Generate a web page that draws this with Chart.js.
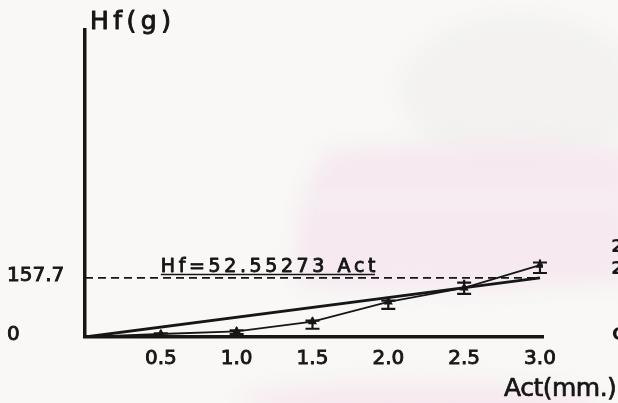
<!DOCTYPE html>
<html>
<head>
<meta charset="utf-8">
<script src="https://cdn.jsdelivr.net/npm/chart.js@4/dist/chart.umd.min.js"></script>
<style>
  html, body { margin: 0; padding: 0; background: #f9f8f6; }
  #wrap { width: 618px; height: 403px; position: relative; }
  canvas { display: block; }
</style>
</head>
<body>
<div id="wrap"><canvas id="c" width="618" height="403"></canvas></div>
<script>
// Actuation (mm) vs. holding force (g), with spread of each measurement
const actValues = [0, 0.5, 1.0, 1.5, 2.0, 2.5, 3.0];
const hfMeans   = [0, 8, 15, 41, 94, 131, 192];
const hfLow     = [null, 2, 8, 22, 75, 115, 171];
const hfHigh    = [null, 10, 18, 44, 97, 145, 199];

const xTickValues = [0.5, 1.0, 1.5, 2.0, 2.5, 3.0];
const xTickLabels = ['0.5', '1.0', '1.5', '2.0', '2.5', '3.0'];
const yTickValues = [0, 157.7];
const yTickLabels = ['0', '157.7'];

// Least-squares line through the origin
const fitSlope = 52.55273;
const fitRange = [0, 3.0];
const refLevel = 157.7;
const equationText = 'Hf=52.55273 Act';

const INK = '#161616';
const FONT = '"DejaVu Sans", sans-serif';

const measured = actValues.map((x, i) => ({ x: x, y: hfMeans[i] }));
const fitLine = fitRange.map(x => ({ x: x, y: fitSlope * x }));
const refLine = [{ x: 0, y: refLevel }, { x: fitRange[1], y: refLevel }];

// Paper tone with the faint pink seal showing through
const paper = {
  id: 'paper',
  beforeDraw(chart) {
    const ctx = chart.ctx;
    ctx.save();
    ctx.fillStyle = '#f9f8f6';
    ctx.fillRect(0, 0, chart.width, chart.height);
    ctx.filter = 'blur(10px)';
    // grey emblem haze top right
    ctx.fillStyle = 'rgba(236,235,232,0.45)';
    ctx.beginPath();
    ctx.ellipse(520, 90, 120, 75, 0, 0, Math.PI * 2);
    ctx.fill();
    // pink band
    ctx.fillStyle = 'rgba(245,232,239,0.9)';
    ctx.beginPath();
    ctx.moveTo(330, 150);
    ctx.bezierCurveTo(420, 140, 560, 142, 630, 148);
    ctx.lineTo(630, 282);
    ctx.bezierCurveTo(520, 290, 380, 292, 300, 286);
    ctx.bezierCurveTo(290, 240, 300, 180, 330, 150);
    ctx.closePath();
    ctx.fill();
    ctx.fillStyle = 'rgba(249,247,246,0.6)';
    ctx.fillRect(300, 196, 330, 10);
    // pink lettering at the bottom
    ctx.fillStyle = 'rgba(245,230,238,0.8)';
    ctx.beginPath();
    ctx.ellipse(420, 400, 180, 18, 0, 0, Math.PI * 2);
    ctx.fill();
    ctx.filter = 'none';
    ctx.restore();
  }
};

// Vertical spread bars with caps
const spreadBars = {
  id: 'spreadBars',
  afterDatasetsDraw(chart) {
    const { ctx, scales: { x, y } } = chart;
    ctx.save();
    ctx.strokeStyle = INK;
    ctx.lineWidth = 2.2;
    actValues.forEach((a, i) => {
      if (hfLow[i] == null) return;
      const px = x.getPixelForValue(a);
      const yl = y.getPixelForValue(hfLow[i]);
      const yh = y.getPixelForValue(hfHigh[i]);
      ctx.beginPath();
      ctx.moveTo(px, yh - 3);
      ctx.lineTo(px, yl);
      ctx.moveTo(px - 7, yh);
      ctx.lineTo(px + 7, yh);
      ctx.moveTo(px - 7, yl);
      ctx.lineTo(px + 7, yl);
      ctx.stroke();
    });
    ctx.restore();
  }
};

// Text drawn with a light outline for a pen-lettered weight
function letter(ctx, text, x, y, stroke) {
  ctx.fillText(text, x, y);
  ctx.lineWidth = stroke;
  ctx.strokeText(text, x, y);
}

// Axis titles, equation and the edge of the facing page
const annotations = {
  id: 'annotations',
  afterDraw(chart) {
    const { ctx, scales: { x, y } } = chart;
    ctx.save();
    ctx.fillStyle = INK;
    ctx.strokeStyle = INK;
    ctx.lineJoin = 'round';
    ctx.textBaseline = 'alphabetic';
    ctx.textAlign = 'left';

    ctx.font = '25px ' + FONT;
    ctx.letterSpacing = '4.5px';
    letter(ctx, 'Hf(g)', 90, 29, 1);

    ctx.letterSpacing = '-0.5px';
    ctx.font = '25px ' + FONT;
    letter(ctx, 'Act(mm.)', 504, 396, 0.7);

    ctx.font = '19px ' + FONT;
    ctx.letterSpacing = '3.6px';
    const ex = x.getPixelForValue(0.5);
    const eb = y.getPixelForValue(refLevel) - 6;
    letter(ctx, equationText, ex, eb, 0.9);
    const w = ctx.measureText(equationText).width;
    ctx.lineWidth = 1.5;
    ctx.beginPath();
    ctx.moveTo(ex, eb + 2.5);
    ctx.lineTo(ex + w - 4, eb + 2.5);
    ctx.stroke();

    ctx.letterSpacing = '0px';
    ctx.font = 'bold 18px ' + FONT;
    ctx.fillText('2', 611, 252);
    ctx.fillText('2', 611, 274);
    ctx.fillText('C', 612, 340);
    ctx.restore();
  }
};

new Chart(document.getElementById('c'), {
  type: 'line',
  data: {
    datasets: [
      {
        label: 'Measured',
        data: measured,
        borderColor: INK,
        backgroundColor: INK,
        borderWidth: 1.8,
        pointStyle: 'triangle',
        pointRadius: actValues.map((a, i) => (i === 0 ? 0 : 3.5)),
        tension: 0
      },
      {
        label: 'Fit',
        data: fitLine,
        borderColor: INK,
        borderWidth: 2.8,
        pointRadius: 0,
        tension: 0
      },
      {
        label: 'Reference',
        data: refLine,
        borderColor: INK,
        borderWidth: 1.8,
        borderDash: [8, 5],
        pointRadius: 0
      }
    ]
  },
  options: {
    responsive: false,
    animation: false,
    devicePixelRatio: 1,
    layout: { padding: { left: 7, right: 75, top: 30, bottom: 0 } },
    plugins: { legend: { display: false }, tooltip: { enabled: false } },
    scales: {
      x: {
        type: 'linear',
        min: 0,
        max: 3.02,
        afterFit: s => { s.height = 66; },
        afterBuildTicks: s => { s.ticks = xTickValues.map(v => ({ value: v })); },
        grid: { display: false, drawTicks: false },
        border: { display: true, color: INK, width: 3.5 },
        ticks: {
          color: INK,
          textStrokeColor: INK,
          textStrokeWidth: 0.9,
          font: { family: FONT, size: 20 },
          padding: 10,
          maxRotation: 0,
          autoSkip: false,
          callback: v => xTickLabels[xTickValues.indexOf(v)]
        }
      },
      y: {
        type: 'linear',
        min: 0,
        max: 820,
        afterFit: s => { s.width = 78; },
        afterBuildTicks: s => { s.ticks = yTickValues.map(v => ({ value: v })); },
        grid: { display: false, drawTicks: false },
        border: { display: true, color: INK, width: 3.5 },
        ticks: {
          color: INK,
          textStrokeColor: INK,
          textStrokeWidth: 0.9,
          crossAlign: 'far',
          labelOffset: -2,
          font: { family: FONT, size: 20 },
          autoSkip: false,
          callback: v => yTickLabels[yTickValues.indexOf(v)]
        }
      }
    }
  },
  plugins: [paper, spreadBars, annotations]
});
</script>
</body>
</html>
